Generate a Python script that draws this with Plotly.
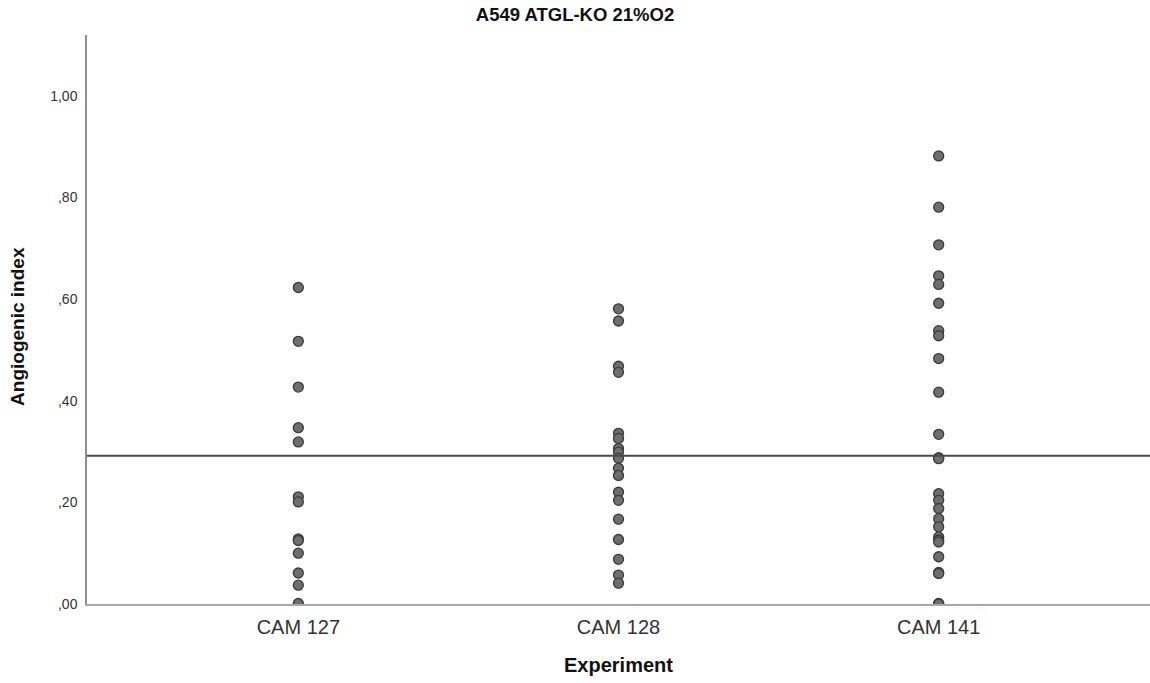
import plotly.graph_objects as go

# Angiogenic index per egg, grouped by CAM experiment
experiments = ["CAM 127", "CAM 128", "CAM 141"]

cam127 = [0.623, 0.517, 0.427, 0.347, 0.319, 0.211, 0.201, 0.128, 0.125,
          0.100, 0.061, 0.037, 0.001]
cam128 = [0.581, 0.557, 0.468, 0.456, 0.336, 0.326, 0.306, 0.299, 0.287,
          0.267, 0.253, 0.220, 0.204, 0.167, 0.127, 0.088, 0.057, 0.041]
cam141 = [0.882, 0.781, 0.707, 0.646, 0.629, 0.592, 0.538, 0.528, 0.483,
          0.417, 0.334, 0.288, 0.286, 0.217, 0.204, 0.188, 0.168, 0.152,
          0.132, 0.126, 0.122, 0.093, 0.062, 0.060, 0.001, 0.0]

reference_value = 0.292

y_tick_values = [0.0, 0.2, 0.4, 0.6, 0.8, 1.0]
y_tick_labels = [",00", ",20", ",40", ",60", ",80", "1,00"]

groups = [cam127, cam128, cam141]

fig = go.Figure()

for name, values in zip(experiments, groups):
    fig.add_trace(go.Scatter(
        x=[name] * len(values),
        y=values,
        mode="markers",
        marker=dict(size=10, color="#6e6e6e",
                    line=dict(color="#3a3a3a", width=1.3)),
        cliponaxis=True,
        showlegend=False,
        hoverinfo="y",
    ))

# Horizontal reference line across the whole plot
fig.add_shape(type="line", xref="paper", yref="y",
              x0=0, x1=1, y0=reference_value, y1=reference_value,
              line=dict(color="#4a4a4a", width=2))

fig.update_layout(
    width=1150, height=683,
    margin=dict(l=87, r=0, t=35, b=79),
    paper_bgcolor="white",
    plot_bgcolor="white",
    font=dict(family="Liberation Sans, Arial, sans-serif", color="#222"),
    title=dict(text="<b>A549 ATGL-KO 21%O2</b>", x=0.5, xref="container",
               y=1 - 15 / 683, yref="container", yanchor="middle",
               xanchor="center", font=dict(size=18.5, color="#111")),
    xaxis=dict(
        type="category",
        categoryorder="array", categoryarray=experiments,
        range=[-0.66, 2.66],
        showgrid=False, zeroline=False,
        showline=True, linecolor="#a8a8a8", linewidth=2,
        ticks="outside", ticklen=4, tickcolor="rgba(0,0,0,0)",
        tickfont=dict(size=20, color="#333"),
    ),
    yaxis=dict(
        range=[0, 1.12],
        tickvals=y_tick_values, ticktext=y_tick_labels,
        showgrid=False, zeroline=False,
        showline=True, linecolor="#8f8f8f", linewidth=1.5,
        ticks="outside", ticklen=5, tickcolor="rgba(0,0,0,0)",
        tickfont=dict(size=14, color="#333"),
    ),
    annotations=[
        dict(text="<b>Experiment</b>", xref="paper", yref="paper",
             x=0.5, y=0, yshift=-61, showarrow=False,
             xanchor="center", yanchor="middle",
             font=dict(size=20, color="#111")),
        dict(text="<b>Angiogenic index</b>", xref="paper", yref="paper",
             x=0, y=0.487, xshift=-69, showarrow=False, textangle=-90,
             xanchor="center", yanchor="middle",
             font=dict(size=19, color="#111")),
    ],
)

fig.write_html("out.html")
